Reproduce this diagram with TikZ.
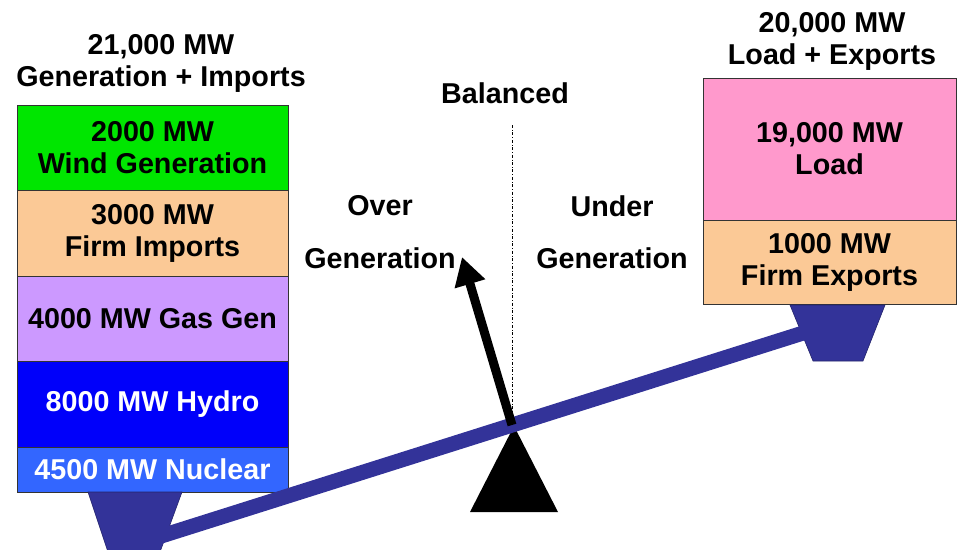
\documentclass[tikz,border=0pt]{standalone}
\usepackage{fontspec}
\setmainfont{Liberation Sans}
\usetikzlibrary{arrows.meta}

\definecolor{wnd}{RGB}{0,230,0}
\definecolor{peach}{RGB}{251,201,150}
\definecolor{lav}{RGB}{204,153,255}
\definecolor{hyd}{RGB}{0,0,250}
\definecolor{nuc}{RGB}{51,102,255}
\definecolor{pnk}{RGB}{255,153,204}
\definecolor{navy}{RGB}{51,51,153}

\begin{document}
\begin{tikzpicture}[x=1pt, y=-1pt,
        lbl/.style={align=center, inner sep=0pt, font=\fontsize{28.7}{32}\selectfont\bfseries},
        blk/.style={lbl, rectangle, draw=black!80, line width=0.8pt, minimum width=271pt},
        rblk/.style={blk, minimum width=253pt},
        beam/.style={draw=navy, line width=15pt},
        foot/.style={fill=navy, draw=navy!70!black, line width=0.6pt},
    ]
    \useasboundingbox (0,0) rectangle (961,549);
    \clip (0,0) rectangle (961,549);

    % left side
    \node[lbl] (gtitle) at (161,63) {21,000 MW\\Generation + Imports};

    \node[blk, fill=wnd, minimum height=85pt] (wind) at (152.5,147.5) {2000 MW\\Wind Generation};
    \node[blk, fill=peach, minimum height=86pt] (imp) at (152.5,233) {3000 MW\\Firm Imports};
    \node[blk, fill=lav, minimum height=85pt] (gas) at (152.5,318.5) {4000 MW Gas Gen};
    \node[blk, fill=hyd, text=white, minimum height=86pt] (hydro) at (152.5,404) {8000 MW Hydro};
    \node[blk, fill=nuc, text=white, minimum height=45pt] (nucl) at (152.5,469.5) {4500 MW Nuclear};

    % right side
    \node[lbl] (ltitle) at (832,41) {20,000 MW\\Load + Exports};

    \node[rblk, fill=pnk, minimum height=142pt] (load) at (829.5,149) {19,000 MW\\Load};
    \node[rblk, fill=peach, minimum height=84pt] (exp) at (829.5,262) {1000 MW\\Firm Exports};

    % middle
    \node[lbl] (bal) at (505,93) {Balanced};
    \node[lbl] (over) at (380,206) {Over};
    \node[lbl] (overgen) at (380,258) {Generation};
    \node[lbl] (under) at (612,206) {Under};
    \node[lbl] (undergen) at (612,258) {Generation};

    \coordinate (pivot) at (512,425);
    \coordinate (top) at (512,125);
    \coordinate (tip) at (462,257);
    \coordinate (lend) at (136,544);
    \coordinate (rend) at (830,324.5);

    % seesaw
    \fill (514,426) -- (558,512) -- (470,512) -- cycle;
    \filldraw[foot] (88,492) -- (182,492) -- (160,552) -- (108,552) -- cycle;
    \filldraw[foot] (790,305) -- (885,305) -- (863,361) -- (813,361) -- cycle;
    \draw[beam] (lend) -- (rend);

    \draw[dash dot, line width=0.8pt] (top) -- (512,417);
    \draw[line width=9pt, -{Triangle[length=28pt, width=30pt]}] (pivot) -- (tip);
\end{tikzpicture}
\end{document}
